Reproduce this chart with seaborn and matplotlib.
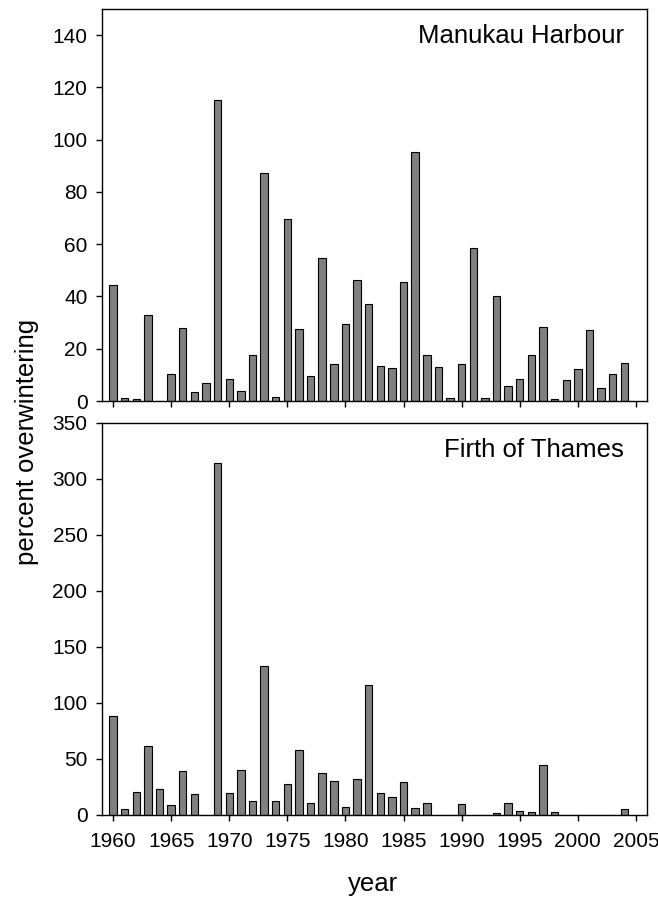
import numpy as np
import pandas as pd
import matplotlib
matplotlib.use("Agg")
import matplotlib.pyplot as plt
import seaborn as sns

years = list(range(1960, 2005))

manukau = [44.5, 1.0, 0.6, 32.8, 0.0, 10.3, 27.8, 3.6, 6.8, 115.1,
           8.5, 3.7, 17.6, 87.3, 1.7, 69.7, 27.4, 9.7, 54.7, 14.1,
           29.4, 46.4, 37.3, 13.3, 12.6, 45.5, 95.3, 17.6, 12.9, 1.3,
           14.0, 58.6, 1.2, 40.0, 5.6, 8.3, 17.6, 28.2, 0.6, 7.9,
           12.4, 27.2, 5.1, 10.3, 14.5]

thames = [88.0, 5.1, 20.2, 61.3, 23.5, 8.6, 39.3, 19.0, 0.0, 314.0,
          19.3, 39.9, 12.2, 133.0, 12.2, 27.4, 57.7, 10.4, 37.2, 30.1,
          7.4, 32.4, 116.0, 19.3, 16.4, 29.8, 6.5, 11.0, 0.0, 0.0,
          9.5, 0.0, 0.0, 1.5, 10.4, 3.3, 2.4, 44.3, 2.4, 0.0,
          0.0, 0.0, 0.0, 0.0, 5.4]

panel_titles = ["Manukau Harbour", "Firth of Thames"]
top_yticks = [0, 20, 40, 60, 80, 100, 120, 140]
bottom_yticks = [0, 50, 100, 150, 200, 250, 300, 350]
xticks = [1960, 1965, 1970, 1975, 1980, 1985, 1990, 1995, 2000, 2005]

sns.set_style("ticks")
plt.rcParams['font.family'] = ['Liberation Sans', 'DejaVu Sans']
plt.rcParams['axes.linewidth'] = 1.0
plt.rcParams['xtick.major.size'] = 4.5
plt.rcParams['ytick.major.size'] = 4.5
plt.rcParams['xtick.color'] = 'black'
plt.rcParams['ytick.color'] = 'black'
plt.rcParams['xtick.labelcolor'] = 'black'
plt.rcParams['ytick.labelcolor'] = 'black'
plt.rcParams['text.color'] = 'black'
plt.rcParams['axes.labelcolor'] = 'black'
plt.rcParams['axes.edgecolor'] = 'black'

W, H = 658, 901
fig = plt.figure(figsize=(W / 100, H / 100), dpi=100)

L, R = 102 / W, 647 / W
ax1 = fig.add_axes([L, 1 - 401 / H, R - L, (401 - 9) / H])
ax2 = fig.add_axes([L, 1 - 815 / H, R - L, (815 - 423) / H])

df1 = pd.DataFrame({"year": years, "value": manukau})
df2 = pd.DataFrame({"year": years, "value": thames})

for ax, df, ylim, yt, title in [(ax1, df1, 150, top_yticks, panel_titles[0]),
                                (ax2, df2, 350, bottom_yticks, panel_titles[1])]:
    sns.barplot(data=df, x="year", y="value", native_scale=True, width=0.64,
                color="#808080", edgecolor="black", linewidth=0.8,
                saturation=1, ax=ax)
    ax.set_xlim(1959.05, 2005.95)
    ax.set_ylim(0, ylim)
    ax.set_yticks(yt)
    ax.set_xticks(xticks)
    ax.set_xlabel("")
    ax.set_ylabel("")
    for s in ax.spines.values():
        s.set_visible(True)
        s.set_color("black")
    ax.tick_params(axis='y', labelsize=15, pad=6, width=1)
    ax.tick_params(axis='x', labelsize=15, pad=8, width=1)
    ax.text(0.958, 0.93, title, transform=ax.transAxes, ha='right', va='center',
            fontsize=18.5, color='black')

ax1.tick_params(axis='x', labelbottom=False)
ax2.set_xticklabels([str(t) for t in xticks])

fig.text(27 / W, 1 - 442 / H, "percent overwintering", rotation=90,
         ha='center', va='center', fontsize=18.5, color='black')
fig.text(373 / W, 1 - 884 / H, "year", ha='center', va='center',
         fontsize=18.5, color='black')

fig.savefig("out.png", dpi=100)
